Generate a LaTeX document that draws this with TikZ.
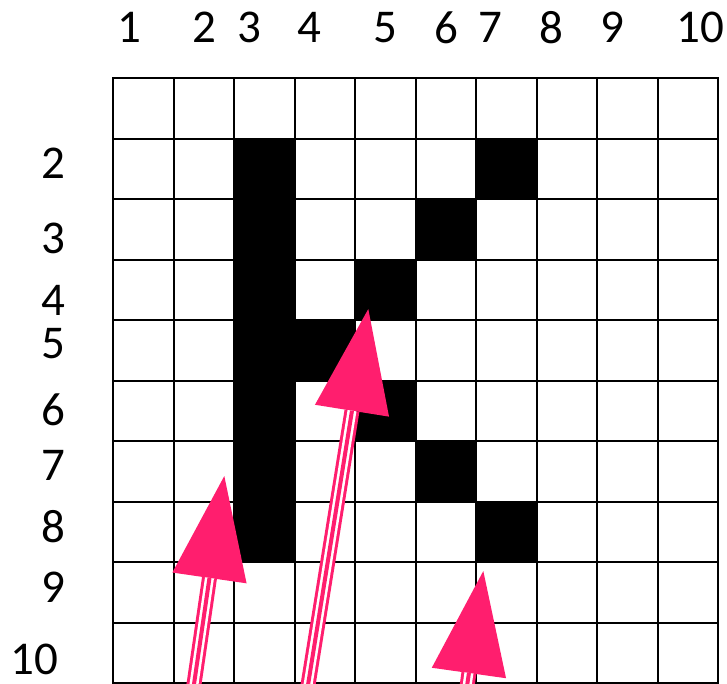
\documentclass[tikz,border=0pt]{standalone}
\usepackage{fontspec}
\setmainfont{Carlito}
\usetikzlibrary{arrows.meta}
\definecolor{arrowpink}{RGB}{255,30,110}

\begin{document}
\begin{tikzpicture}[
  x=1pt, y=-1pt,
  lbl/.style={font=\fontsize{47}{56}\selectfont, inner sep=0pt},
  gridline/.style={draw=black, line width=2pt, line cap=rect},
  cellfill/.style={fill=black},
  shaft/.style={draw=arrowpink, line width=15pt, -{Triangle[length=103pt 0 0,width=75pt 0 0,line width=0pt 0 0]}},
  gap/.style={draw=white, line width=9pt, shorten >=103pt},
  core/.style={draw=arrowpink, line width=4pt, shorten >=103pt}
]
  \useasboundingbox (0,0) rectangle (727,683);

  % black cells of the letter
  \fill[cellfill] (234,138.5) rectangle (294.5,562);
  \foreach \c/\r in {7/2,6/3,5/4,4/5,5/6,6/7,7/8}
    \fill[cellfill] ({113+60.5*(\c-1)},{78+60.5*(\r-1)}) rectangle ++(60.5,60.5);

  % grid
  \foreach \i in {0,...,10} {
    \draw[gridline] ({113+60.5*\i},78) -- ({113+60.5*\i},683);
    \draw[gridline] (113,{78+60.5*\i}) -- (718,{78+60.5*\i});
  }

  % column and row numbers
  \foreach \n/\x in {1/129,2/204,3/249,4/309.5,5/385,6/446,7/490,8/551,9/612,10/700.5}
    \node[lbl] (col\n) at (\x,27.5) {\n};
  \foreach \n/\y in {2/163,3/238,4/300,5/344,6/410,7/465,8/527,9/587}
    \node[lbl] (row\n) at (53,\y) {\n};
  \node[lbl] (row10) at (34,659) {10};

  % arrows
  \coordinate (tail1) at (191.7,700);
  \coordinate (tip1) at (224.3,476);
  \coordinate (tail2) at (305.6,700);
  \coordinate (tip2) at (368.3,309);
  \coordinate (tail3) at (465.1,700);
  \coordinate (tip3) at (483.3,571);
  \foreach \k in {1,2,3} {
    \draw[shaft] (tail\k) -- (tip\k);
    \draw[gap] (tail\k) -- (tip\k);
    \draw[core] (tail\k) -- (tip\k);
  }
\end{tikzpicture}
\end{document}
